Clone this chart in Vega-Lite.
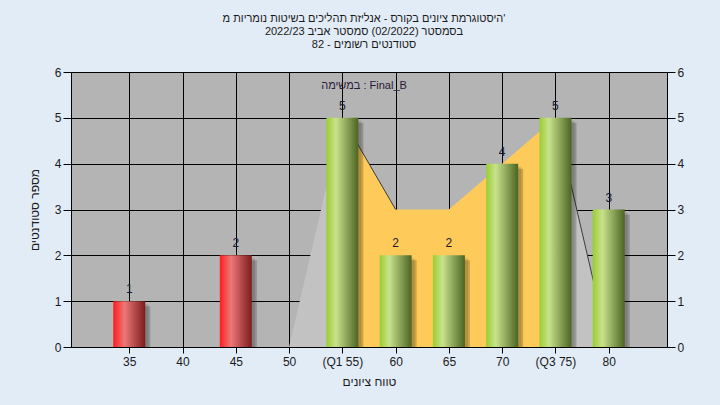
{
  "$schema": "https://vega.github.io/schema/vega-lite/v6.json",
  "width": 596,
  "height": 275,
  "autosize": {"type": "none"},
  "padding": {"left": 71, "top": 72, "right": 53, "bottom": 58},
  "background": "#e2ecf7",
  "config": {
    "font": "Liberation Sans",
    "view": {"fill": "#b4b4b4", "stroke": null},
    "axis": {
      "domainColor": "#000000",
      "tickColor": "#000000",
      "gridColor": "#000000",
      "gridOpacity": 1,
      "gridWidth": 1,
      "domainWidth": 1,
      "tickWidth": 1,
      "labelColor": "#1a1a1a",
      "labelFont": "Liberation Sans",
      "labelFontSize": 12,
      "titleFont": "Liberation Sans",
      "titleFontSize": 12,
      "titleFontWeight": "normal",
      "titleColor": "#1a1a1a"
    }
  },
  "title": {
    "text": [
      "מ\u200e נומריות\u200e בשיטות\u200e תהליכים\u200e אנליזת\u200e -\u200e בקורס\u200e ציונים\u200e היסטוגרמת\u200e'",
      "2022/23\u200e אביב\u200e סמסטר\u200e  (02/2022)\u200e  בסמסטר",
      "82\u200e -\u200e רשומים\u200e סטודנטים"
    ],
    "subtitle": "במשימה\u200e : Final_B",
    "anchor": "middle",
    "dx": -5,
    "offset": -25,
    "fontSize": 11,
    "fontWeight": "normal",
    "color": "#1a1a1a",
    "lineHeight": 13,
    "subtitleFontSize": 11,
    "subtitleColor": "#2a1a3a",
    "subtitlePadding": 30
  },
  "datasets": {
    "bars": [
      {"grade": 35, "count": 1, "band": "low"},
      {"grade": 45, "count": 2, "band": "low"},
      {"grade": 55, "count": 5, "band": "high"},
      {"grade": 60, "count": 2, "band": "high"},
      {"grade": 65, "count": 2, "band": "high"},
      {"grade": 70, "count": 4, "band": "high"},
      {"grade": 75, "count": 5, "band": "high"},
      {"grade": 80, "count": 3, "band": "high"}
    ],
    "curve": [
      {"grade": 50, "count": 0, "part": "left", "zone": "tail"},
      {"grade": 55, "count": 5, "part": "left", "zone": "tail"},
      {"grade": 55, "count": 5, "part": "mid", "zone": "core"},
      {"grade": 60, "count": 3, "part": "mid", "zone": "core"},
      {"grade": 65, "count": 3, "part": "mid", "zone": "core"},
      {"grade": 70, "count": 4, "part": "mid", "zone": "core"},
      {"grade": 75, "count": 5, "part": "mid", "zone": "core"},
      {"grade": 75, "count": 5, "part": "right", "zone": "tail"},
      {"grade": 80, "count": 0, "part": "right", "zone": "tail"}
    ],
    "edges": [
      {"grade": 55, "count": 5, "seg": "a"},
      {"grade": 60, "count": 3, "seg": "a"},
      {"grade": 75, "count": 5, "seg": "b"},
      {"grade": 80, "count": 0, "seg": "b"}
    ]
  },
  "layer": [
    {
      "encoding": {
        "x": {
          "field": "grade",
          "type": "quantitative",
          "scale": {"domain": [30, 85], "nice": false, "zero": false},
          "axis": {
            "values": [35, 40, 45, 50, 55, 60, 65, 70, 75, 80],
            "labelExpr": "datum.value == 55 ? '(Q1 55)' : datum.value == 75 ? '(Q3 75)' : datum.label",
            "tickSize": 6,
            "labelPadding": 3,
            "labelFlush": false,
            "labelOverlap": false,
            "grid": true,
            "title": "ציונים\u200e טווח",
            "titlePadding": 9
          }
        },
        "y": {
          "field": "count",
          "type": "quantitative",
          "stack": null,
          "scale": {"domain": [0, 6], "nice": false},
          "axis": {
            "values": [0, 1, 2, 3, 4, 5, 6],
            "tickSize": 8,
            "labelPadding": 2,
            "grid": true,
            "title": "מספר סטודנטים",
            "titlePadding": 13
          }
        }
      },
      "layer": [
        {
          "data": {"name": "curve"},
          "mark": {"type": "area", "interpolate": "linear"},
          "encoding": {
            "color": {
              "field": "zone",
              "type": "nominal",
              "scale": {"domain": ["tail", "core"], "range": ["#c2c2c2", "#fecb5b"]},
              "legend": null
            },
            "detail": {"field": "part"}
          }
        },
        {
          "data": {"name": "edges"},
          "mark": {"type": "line", "color": "#3c3c3c", "strokeWidth": 1},
          "encoding": {"detail": {"field": "seg"}}
        },
        {
          "data": {"name": "bars"},
          "mark": {"type": "bar", "width": 32, "color": "#000000", "opacity": 0.12, "xOffset": 3, "yOffset": 3},
          "encoding": {}
        },
        {
          "data": {"name": "bars"},
          "mark": {"type": "bar", "width": 32, "color": "#000000", "opacity": 0.2, "xOffset": 5, "yOffset": 5},
          "encoding": {}
        },
        {
          "data": {"name": "bars"},
          "transform": [{"filter": "datum.band == 'low'"}],
          "mark": {
            "type": "bar",
            "width": 32,
            "color": {
              "gradient": "linear",
              "x1": 0, "y1": 0, "x2": 1, "y2": 0,
              "stops": [
                {"offset": 0, "color": "#ff1c1c"},
                {"offset": 0.35, "color": "#ec7878"},
                {"offset": 1, "color": "#7c1c1c"}
              ]
            }
          },
          "encoding": {}
        },
        {
          "data": {"name": "bars"},
          "transform": [{"filter": "datum.band == 'high'"}],
          "mark": {
            "type": "bar",
            "width": 32,
            "color": {
              "gradient": "linear",
              "x1": 0, "y1": 0, "x2": 1, "y2": 0,
              "stops": [
                {"offset": 0, "color": "#9acd32"},
                {"offset": 0.3, "color": "#c8e28c"},
                {"offset": 1, "color": "#4b6422"}
              ]
            }
          },
          "encoding": {}
        }
      ]
    },
    {
      "data": {"name": "bars"},
      "mark": {"type": "text", "baseline": "bottom", "dy": -5, "fontSize": 12, "color": "#1a1a2e"},
      "encoding": {
        "x": {
          "field": "grade",
          "type": "quantitative",
          "scale": {"domain": [30, 85], "nice": false, "zero": false},
          "axis": {
            "values": [35, 40, 45, 50, 55, 60, 65, 70, 75, 80],
            "labelExpr": "datum.value == 55 ? '(Q1 55)' : datum.value == 75 ? '(Q3 75)' : datum.label",
            "tickSize": 6,
            "labelPadding": 3,
            "labelFlush": false,
            "labelOverlap": false,
            "grid": true,
            "title": "ציונים\u200e טווח",
            "titlePadding": 9
          }
        },
        "y": {
          "field": "count",
          "type": "quantitative",
          "scale": {"domain": [0, 6], "nice": false},
          "axis": {
            "orient": "right",
            "values": [0, 1, 2, 3, 4, 5, 6],
            "tickSize": 8,
            "labelPadding": 2,
            "grid": false,
            "title": null
          }
        },
        "text": {"field": "count", "type": "quantitative"}
      }
    }
  ],
  "resolve": {"scale": {"y": "independent"}}
}
